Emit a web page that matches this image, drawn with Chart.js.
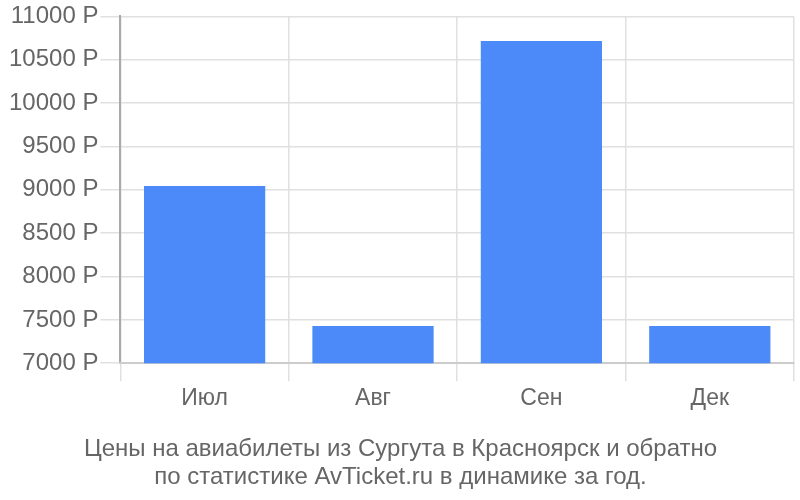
<!DOCTYPE html>
<html>
<head>
<meta charset="utf-8">
<script src="https://cdn.jsdelivr.net/npm/chart.js@4/dist/chart.umd.min.js"></script>
<style>
  html, body { margin: 0; padding: 0; background: #fff; }
  #wrap { width: 800px; height: 500px; }
</style>
</head>
<body>
<div id="wrap"><canvas id="priceChart"></canvas></div>
<script>
const months = ['Июл', 'Авг', 'Сен', 'Дек'];
const prices = [9045, 7430, 10715, 7430];
const yMin = 7000;
const yMax = 11000;
const yStep = 500;
const titleLines = [
  'Цены на авиабилеты из Сургута в Красноярск и обратно',
  'по статистике AvTicket.ru в динамике за год.'
];

document.addEventListener('DOMContentLoaded', () => {
  initChart();
});

function initChart() {
  if (typeof Chart === 'undefined') return;
  const ctx = document.getElementById('priceChart');

  new Chart(ctx, {
    type: 'bar',
    data: {
      labels: months,
      datasets: [
        {
          data: prices,
          backgroundColor: '#4d8af9',
          barPercentage: 0.72,
          categoryPercentage: 1,
        },
      ],
    },
    options: {
      responsive: true,
      maintainAspectRatio: false,
      animation: false,
      layout: {
        padding: { top: 2, right: 6, left: 7, bottom: 9 },
      },
      scales: {
        y: {
          min: yMin,
          max: yMax,
          ticks: {
            stepSize: yStep,
            color: '#666',
            padding: 2,
            font: { family: 'Liberation Sans', size: 24 },
            callback: (v) => v + ' Р',
          },
          grid: { color: '#e0e0e0', tickLength: 20, lineWidth: 1.5 },
          border: { color: '#aaa', width: 2 },
        },
        x: {
          ticks: {
            color: '#666',
            padding: 4,
            font: { family: 'Liberation Sans', size: 23 },
          },
          grid: { color: '#e0e0e0', tickLength: 18, lineWidth: 1.5 },
          border: { color: '#ccc', width: 2 },
        },
      },
      plugins: {
        legend: { display: false },
        tooltip: { enabled: false },
        title: {
          display: true,
          position: 'bottom',
          text: titleLines,
          color: '#666',
          font: { family: 'Liberation Sans', size: 24, weight: 'normal', lineHeight: 1.17 },
          padding: { top: 18, bottom: 0 },
        },
      },
    },
  });
}
</script>
</body>
</html>
